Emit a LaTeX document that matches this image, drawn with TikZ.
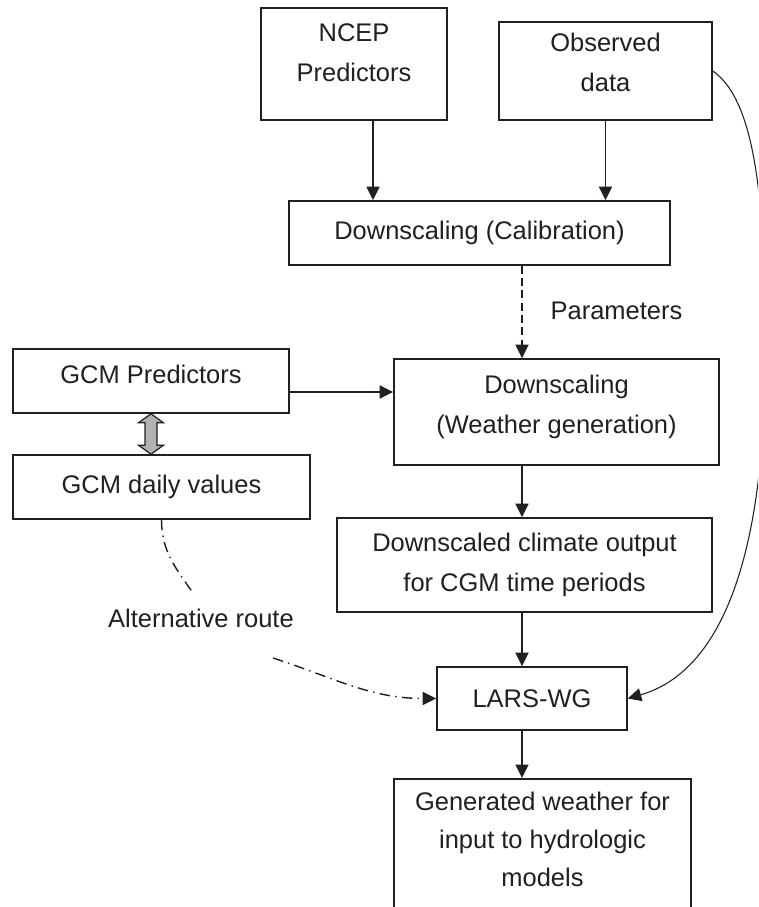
\documentclass[tikz,border=0pt]{standalone}
\usepackage{fontspec}
\setmainfont{Liberation Sans}
\usetikzlibrary{arrows.meta}
\definecolor{ink}{RGB}{35,31,32}
\newcommand{\lowerpad}[1]{\rule[-#1]{0pt}{#1}}

\begin{document}
\begin{tikzpicture}[
    box/.style={draw=ink, line width=0.9pt, align=center, inner sep=0pt, text=ink,
                font=\fontsize{14.5}{22.8}\selectfont},
    note/.style={text=ink, font=\fontsize{14.5}{22.8}\selectfont},
    arr/.style={draw=ink, line width=0.9pt, -{Triangle[length=2.7mm, width=2.6mm]}},
    altroute/.style={draw=ink, line width=0.8pt, dash pattern=on 6pt off 3pt on 0.8pt off 3pt},
    swaparrow/.style={draw=ink, fill=gray!60, line width=0.7pt, line join=miter}
  ]
            \useasboundingbox (0, 0) rectangle (15.16, -18.14);
            \clip (0, 0) rectangle (15.16, -18.14);
            \fill[white] (0, 0) rectangle (15.16, -18.14);

            % boxes
            \draw (7.08, -1.28) node[box, minimum width=3.72cm, minimum height=2.24cm] (ncep) {NCEP\\Predictors\lowerpad{0.46cm}};
            \draw (12.11, -1.42) node[box, minimum width=4.26cm, minimum height=1.96cm] (obs) {Observed\\data\lowerpad{0.34cm}};
            \draw (9.59, -4.66) node[box, minimum width=7.62cm, minimum height=1.28cm] (calib) {Downscaling (Calibration)};
            \draw (12.33, -6.21) node[note] (params) {Parameters};
            \draw (3.02, -7.62) node[box, minimum width=5.52cm, minimum height=1.28cm] (gcmp) {GCM Predictors\lowerpad{0.28cm}};
            \draw (11.13, -8.24) node[box, minimum width=6.5cm, minimum height=2.12cm] (wg) {Downscaling\\(Weather generation)\lowerpad{0.3cm}};
            \draw (3.23, -9.74) node[box, minimum width=5.94cm, minimum height=1.28cm] (gcmd) {GCM daily values};
            \draw (10.49, -11.3) node[box, minimum width=7.5cm, minimum height=1.88cm] (dco) {Downscaled climate output\\for CGM time periods};
            \draw (4.02, -12.36) node[note] (alt) {Alternative route};
            \draw (10.64, -13.97) node[box, minimum width=3.8cm, minimum height=1.26cm] (lars) {LARS-WG};
            \draw (10.85, -15.56) node[box, anchor=north, minimum width=5.94cm, minimum height=2.74cm,
                  font=\fontsize{14.5}{21.5}\selectfont] (gen) {Generated weather for\\input to hydrologic\\models\lowerpad{0.32cm}};

            % connectors
            \coordinate (spine) at (10.44, 0);
            \draw[arr] ([xshift=0.38cm]ncep.south) -- ([xshift=0.38cm]ncep.south |- calib.north);
            \draw[arr] (obs.south) -- (obs.south |- calib.north);
            \draw[arr, dash pattern=on 4.5pt off 2.5pt] (calib.south -| spine) -- (wg.north -| spine);
            \draw[arr] ([yshift=-0.22cm]gcmp.east) -- ([yshift=-0.22cm]gcmp.east -| wg.west);
            \draw[arr] (wg.south -| spine) -- (dco.north -| spine);
            \draw[arr] (dco.south -| spine) -- (lars.north -| spine);
            \draw[arr] (lars.south -| spine) -- (gen.north -| spine);

            % grey two-way arrow
            \coordinate (swaptop) at (gcmp.south);
            \coordinate (swapbot) at (gcmd.north -| gcmp.south);
            \draw[swaparrow] (swaptop) -- ++(0.25, -0.18) -- ++(-0.13, 0) -- ([shift={(0.12, 0.18)}]swapbot)
                  -- ++(0.13, 0) -- (swapbot) -- ++(-0.25, 0.18) -- ++(0.13, 0)
                  -- ([shift={(-0.12, -0.18)}]swaptop) -- ++(-0.13, 0) -- cycle;

            \coordinate (bend) at (15.30, -7.0);
            \draw[arr, line width=0.6pt] (obs.east) .. controls (15.22, -2.08) and (15.30, -4.6) .. (bend)
                  .. controls (15.32, -11.2) and (14.4, -13.44) .. (lars.east);

            \coordinate (altA) at (3.86, -11.86);
            \coordinate (altB) at (5.46, -13.16);
            \draw[altroute] (gcmd.south) to[out=-90, in=125] (altA);
            \draw[altroute, -{Triangle[length=2.7mm, width=2.6mm]}] (altB) to[out=-18, in=180] (lars.west);

        \end{tikzpicture}
\end{document}
